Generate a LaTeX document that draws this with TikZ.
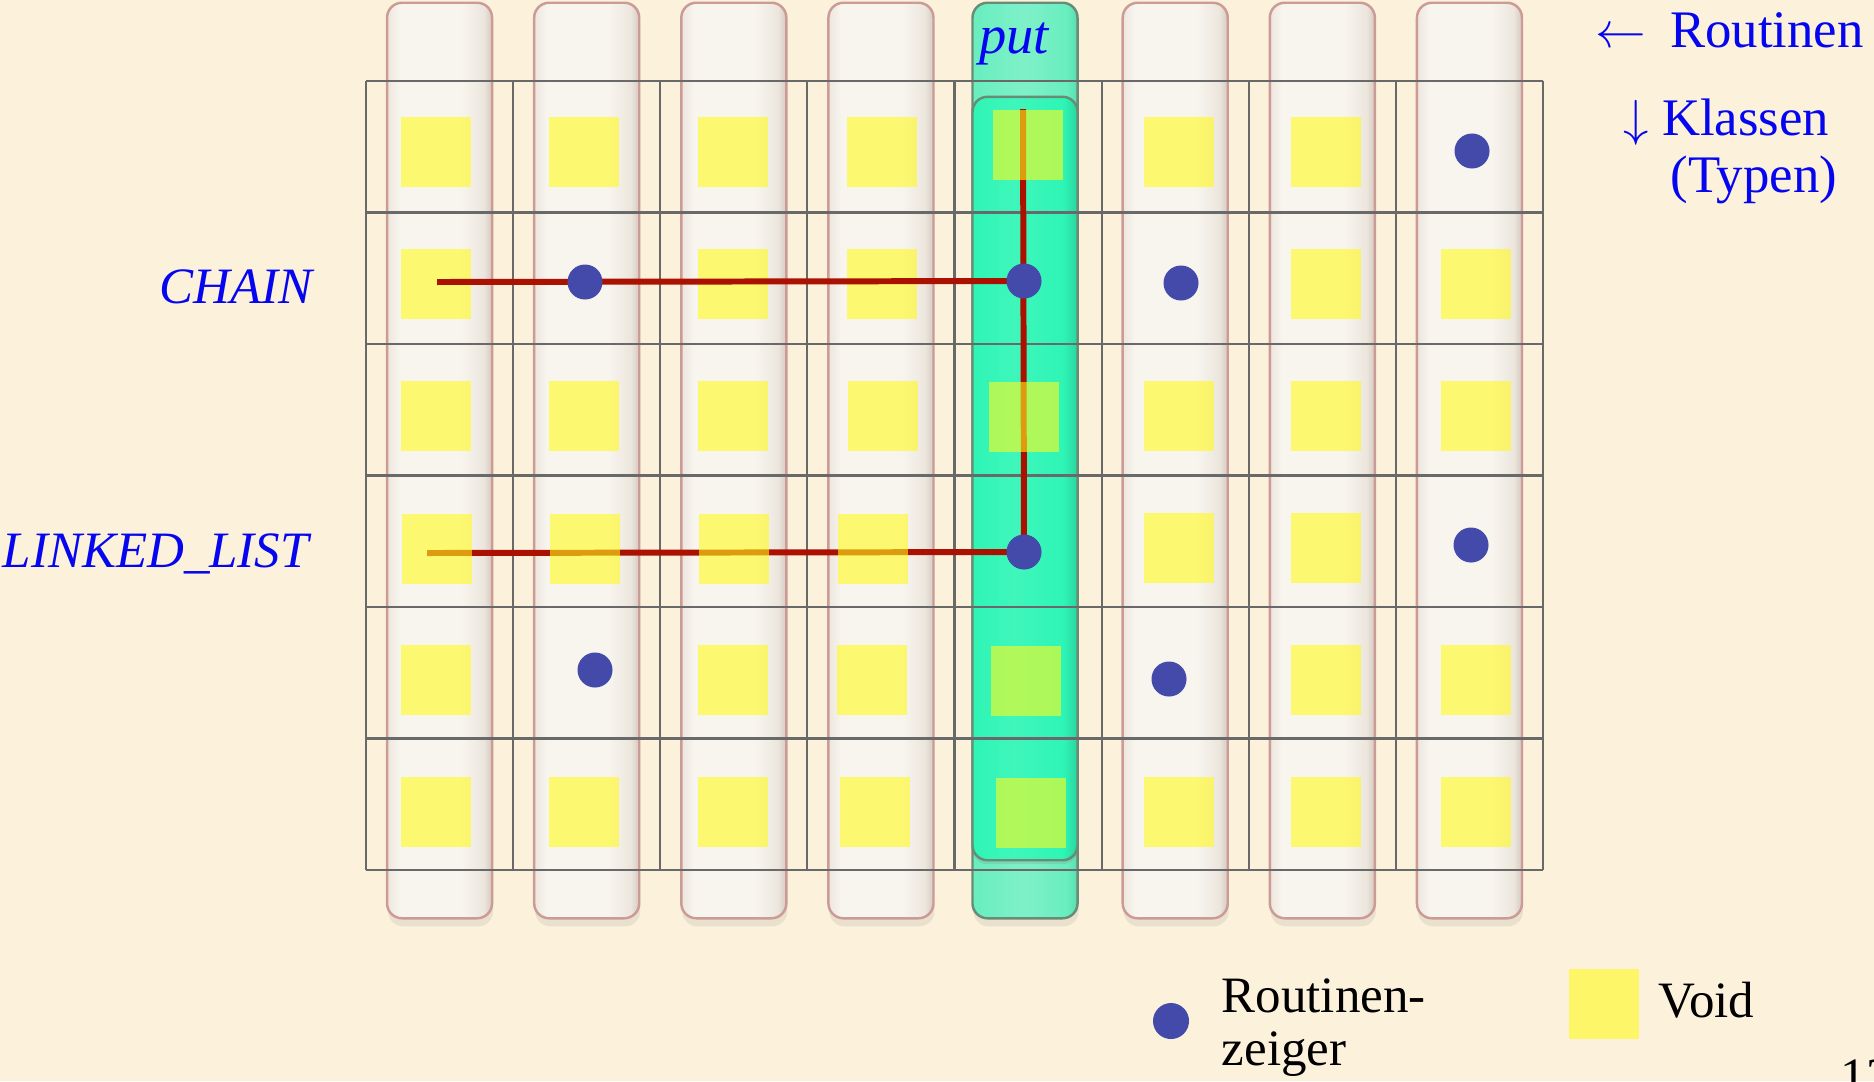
\documentclass[tikz,border=0pt]{standalone}
\usepackage{fontspec}
\setmainfont{Liberation Serif}
\usetikzlibrary{shadows}

\definecolor{parchment}{RGB}{252,241,219}
\definecolor{pillrim}{RGB}{205,155,150}
\definecolor{pilllight}{RGB}{248,245,239}
\definecolor{pilledge}{RGB}{236,230,221}
\definecolor{pilldark}{RGB}{212,203,192}
\definecolor{mint}{RGB}{104,238,190}
\definecolor{mintedge}{RGB}{90,220,175}
\definecolor{mintrim}{RGB}{105,140,118}
\definecolor{putgreen}{RGB}{46,245,181}
\definecolor{putedge}{RGB}{40,215,160}
\definecolor{voidyellow}{RGB}{255,250,28}
\definecolor{ptrblue}{RGB}{67,74,170}
\definecolor{linkred}{RGB}{170,17,0}
\definecolor{gridgray}{RGB}{105,105,105}
\definecolor{labelblue}{RGB}{5,5,240}

\pgfdeclarehorizontalshading{pillshade}{100bp}{color(0bp)=(pilledge); color(25bp)=(pilledge);
	color(31bp)=(pilllight); color(60bp)=(pilllight); color(71bp)=(pilledge); color(75bp)=(pilldark); color(100bp)=(pilldark)}
\pgfdeclarehorizontalshading{mintshade}{100bp}{color(0bp)=(mint); color(25bp)=(mint);
	color(50bp)=(mint!85!white); color(70bp)=(mint); color(75bp)=(mintedge); color(100bp)=(mintedge)}
\pgfdeclarehorizontalshading{putshade}{100bp}{color(0bp)=(putgreen); color(25bp)=(putgreen);
	color(45bp)=(putgreen!92!white); color(68bp)=(putgreen); color(75bp)=(putedge); color(100bp)=(putedge)}

\tikzset{
	pill/.style={rounded corners=0.15cm, draw=pillrim, line width=0.7pt,
		minimum width=1.05cm, minimum height=9.15cm, inner sep=0pt, shading=pillshade,
		drop shadow={shadow xshift=0.01cm, shadow yshift=-0.08cm, opacity=0.15}},
	putpill/.style={pill, draw=mintrim, shading=mintshade},
	putbody/.style={rounded corners=0.15cm, draw=mintrim, line width=0.7pt,
		minimum width=1.05cm, minimum height=7.63cm, inner sep=0pt, shading=putshade,
		drop shadow={shadow xshift=0cm, shadow yshift=-0.04cm, opacity=0.2}},
	gridline/.style={draw=gridgray, line width=0.6pt},
	void/.style={fill=voidyellow, fill opacity=0.6, minimum size=0.7cm, inner sep=0pt},
	ptr/.style={circle, fill=ptrblue, minimum size=0.35cm, inner sep=0pt},
	link/.style={draw=linkred, line width=1.7pt},
	lbl/.style={text=labelblue, font=\fontsize{14.5}{17}\selectfont\itshape, inner sep=0pt},
	txt/.style={text=labelblue, font=\fontsize{15}{17}\selectfont, inner sep=0pt},
	legend/.style={text=black, font=\fontsize{14.5}{17}\selectfont, inner sep=0pt}
}

\begin{document}
\begin{tikzpicture}[x=0.01cm, y=-0.01cm]
	\useasboundingbox (0,0) rectangle (1874,1081);
	\clip (0,0) rectangle (1874,1081);
	\fill[parchment] (0,0) rectangle (1874,1081);

	% Routinen as pills
	\foreach \i in {1,2,3,4,6,7,8}
		\node[pill] (pill\i) at ({366+147.125*(\i-0.5)},460.5) {};
	\node[putpill] (pill5) at (1025,460.5) {};
	\node[putbody] (putbody) at (1025,478.5) {};
	\node[lbl, anchor=base, font=\fontsize{15.5}{18}\selectfont\itshape] (put) at (1014,53) {put};

	% Table grid
	\foreach \i in {0,...,8}
		\draw[gridline] ({366+147.125*\i},81) -- ({366+147.125*\i},870);
	\foreach \j in {0,...,6}
		\draw[gridline] (366,{81+131.5*\j}) -- (1543,{81+131.5*\j});

	% Ends of the links
	\coordinate (chainstart) at (437,282);
	\coordinate (liststart) at (427,553);
	\coordinate (putstart) at (1023,109);
	\coordinate (c25) at (1024,281);
	\coordinate (c45) at (1024,552);

	% Links under the Void entries
	\draw[link] (liststart) -- (c45);
	\draw[link] (putstart) -- (c45);

	% Void entries
	\foreach \x/\y [count=\k] in {436/152, 584/152, 733/152, 882/152, 1028/145, 1179/152, 1326/152,
			436/284, 733/284, 882/284, 1326/284, 1476/284,
			436/416, 584/416, 733/416, 883/416, 1024/417, 1179/416, 1326/416, 1476/416,
			437/549, 585/549, 734/549, 873/549, 1179/548, 1326/548,
			436/680, 733/680, 872/680, 1026/681, 1326/680, 1476/680,
			436/812, 584/812, 733/812, 875/812, 1031/813, 1179/812, 1326/812, 1476/812}
		\node[void] (v\k) at (\x,\y) {};

	% Link over the Void entries
	\draw[link] (chainstart) -- (c25);

	% Routine pointers
	\node[ptr] (p18) at (1472,151) {};
	\node[ptr] (p22) at (585,282) {};
	\node[ptr] (p25) at (c25) {};
	\node[ptr] (p26) at (1181,283) {};
	\node[ptr] (p45) at (c45) {};
	\node[ptr] (p48) at (1471,545) {};
	\node[ptr] (p52) at (595,670) {};
	\node[ptr] (p56) at (1169,679) {};

	% Class labels
	\node[lbl, anchor=base west] (chain) at (159,303) {CHAIN};
	\node[lbl, anchor=base west] (linkedlist) at (2,567) {LINKED\_LIST};

	% Axis labels
	\node[txt, anchor=base west] (routinen) at (1595,47) {$\leftarrow$\hspace{0.45em}Routinen};
	\node[txt, anchor=base west] (klassen) at (1623,135) {$\downarrow$\ Klassen};
	\node[txt, anchor=base west] (typen) at (1670,192) {(Typen)};

	% Legend
	\node[ptr, minimum size=0.36cm] (lptr) at (1171,1021) {};
	\node[legend, anchor=base west] (lptrtext) at (1221,1012) {Routinen-};
	\node[legend, anchor=base west] (lptrtext2) at (1221,1065) {zeiger};
	\node[void] (lvoid) at (1604,1004) {};
	\node[legend, anchor=base west] (lvoidtext) at (1658,1017) {Void};
	\node[legend, anchor=base west] (page) at (1840,1093) {12};
\end{tikzpicture}
\end{document}
